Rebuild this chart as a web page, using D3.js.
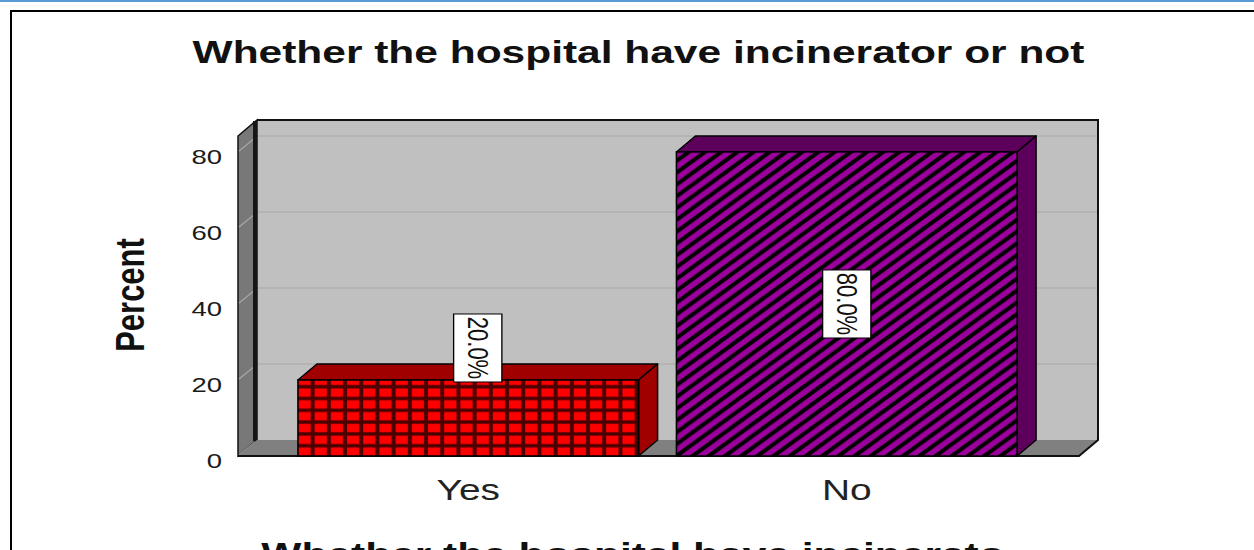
<!DOCTYPE html>
<html>
<head>
<meta charset="utf-8">
<script src="https://cdn.jsdelivr.net/npm/d3@7"></script>
<style>
  body { margin: 0; background: #fff; }
  svg { display: block; }
</style>
</head>
<body>
<svg id="main_svg" width="1254" height="550"></svg>
<script>
// data
const categories = ['Yes', 'No'];
const percents = [20.0, 80.0];
const barLabels = ['20.0%', '80.0%'];
const yTicks = [0, 20, 40, 60, 80];
const chartTitle = 'Whether the hospital have incinerator or not';
const xTitle = 'Whether the hospital have incinerato';
const yTitle = 'Percent';

// layout / style
const SX = 1.34; // the picture is stretched sideways
const DX = 19, DY = -16; // 3d depth offset
const font = '"Liberation Sans", Arial, sans-serif';
const frontFill = ['url(#pat_check)', 'url(#pat_diag)'];
const darkFill = ['#a00000', '#5c005c'];

const svg = d3.select('#main_svg');

const y = d3.scaleLinear().domain([0, 84.2]).range([456, 136]);
const x = d3.scaleBand()
  .domain(categories)
  .range([279, 1036])
  .paddingInner(0.1)
  .paddingOuter(0.05);

const wallL = 238, wallR = 1079;
const yTop = y(84.2), y0 = y(0);

// patterns
/////////////////////////////////////
const defs = svg.append('defs');
const pw = 16.2, ph = 11.8;

const check = defs.append('pattern')
  .attr('id', 'pat_check')
  .attr('patternUnits', 'userSpaceOnUse')
  .attr('x', x('Yes') - 1.5)
  .attr('y', y0 + 1.5)
  .attr('width', pw)
  .attr('height', ph);
check.append('rect').attr('width', pw).attr('height', ph).attr('fill', '#4a0000');
check.append('rect')
  .attr('x', 2).attr('y', 1.7)
  .attr('width', pw - 4).attr('height', ph - 3.4)
  .attr('fill', '#ff0000');

const diag = defs.append('pattern')
  .attr('id', 'pat_diag')
  .attr('patternUnits', 'userSpaceOnUse')
  .attr('x', x('No'))
  .attr('y', y0)
  .attr('width', pw)
  .attr('height', ph);
diag.append('rect').attr('width', pw).attr('height', ph).attr('fill', '#9c009c');
diag.append('path')
  .attr('d', 'M0,' + ph + ' L' + pw + ',0' +
    ' M' + (-pw / 2) + ',' + (ph / 2) + ' L' + (pw / 2) + ',' + (-ph / 2) +
    ' M' + (pw / 2) + ',' + (ph * 1.5) + ' L' + (pw * 1.5) + ',' + (ph / 2))
  .attr('stroke', '#000')
  .attr('stroke-width', 4.1);

// page decoration
/////////////////////////////////////
svg.append('rect')
  .attr('x', 0).attr('y', 0)
  .attr('width', 1254).attr('height', 2)
  .attr('fill', '#5b9bd5');

svg.append('rect')
  .attr('x', 11).attr('y', 11)
  .attr('width', 1270).attr('height', 600)
  .attr('fill', 'none')
  .attr('stroke', '#000')
  .attr('stroke-width', 2);

// chart title
svg.append('text')
  .text(chartTitle)
  .attr('transform', 'translate(638.5,63) scale(' + SX + ',1)')
  .attr('text-anchor', 'middle')
  .style('font-family', font)
  .style('font-size', '31.7px')
  .style('font-weight', 700)
  .attr('fill', '#111');

// walls
/////////////////////////////////////
// back wall
svg.append('rect')
  .attr('x', wallL + DX)
  .attr('y', yTop + DY)
  .attr('width', wallR - wallL)
  .attr('height', y0 - yTop)
  .attr('fill', '#c0c0c0');

svg.selectAll('.grid_back')
  .data(yTicks.slice(1))
  .enter()
  .append('line')
  .attr('class', 'grid_back')
  .attr('x1', wallL + DX)
  .attr('x2', wallR + DX)
  .attr('y1', d => y(d) + DY)
  .attr('y2', d => y(d) + DY)
  .attr('stroke', '#b0b0b0')
  .attr('stroke-width', 1.5);

// left wall
svg.append('polygon')
  .attr('points', [
    [wallL, yTop], [wallL + DX, yTop + DY],
    [wallL + DX, y0 + DY], [wallL, y0]
  ].join(' '))
  .attr('fill', '#787878')
  .attr('stroke', '#111')
  .attr('stroke-width', 1.5);

svg.selectAll('.grid_left')
  .data(yTicks)
  .enter()
  .append('line')
  .attr('class', 'grid_left')
  .attr('x1', wallL + 1)
  .attr('x2', wallL + DX - 2)
  .attr('y1', d => y(d) - 1)
  .attr('y2', d => y(d) + DY + 2)
  .attr('stroke', '#a6a6a6')
  .attr('stroke-width', 1.2);

svg.append('rect')
  .attr('x', wallL + DX - 4)
  .attr('y', yTop + DY + 1)
  .attr('width', 4)
  .attr('height', y0 - yTop)
  .attr('fill', '#161616');

// floor
svg.append('polygon')
  .attr('points', [
    [wallL, y0], [wallL + DX, y0 + DY],
    [wallR + DX, y0 + DY], [wallR, y0]
  ].join(' '))
  .attr('fill', '#808080');

// outline of the box
svg.append('path')
  .attr('d', 'M' + (wallL + DX) + ',' + (yTop + DY) +
    ' L' + (wallR + DX) + ',' + (yTop + DY) +
    ' L' + (wallR + DX) + ',' + (y0 + DY) +
    ' L' + wallR + ',' + y0 +
    ' L' + wallL + ',' + y0)
  .attr('fill', 'none')
  .attr('stroke', '#111')
  .attr('stroke-width', 2);

// bars
/////////////////////////////////////
const bw = x.bandwidth();
const bars = svg.selectAll('.bar')
  .data(categories)
  .enter()
  .append('g')
  .attr('class', 'bar');

// top face
bars.append('polygon')
  .attr('points', (d, i) => {
    const x0 = x(d), x1 = x0 + bw, yt = y(percents[i]);
    return [[x0, yt], [x0 + DX, yt + DY], [x1 + DX, yt + DY], [x1, yt]].join(' ');
  })
  .attr('fill', (d, i) => darkFill[i])
  .attr('stroke', '#000')
  .attr('stroke-width', 1.5)
  .attr('stroke-linejoin', 'round');

// side face
bars.append('polygon')
  .attr('points', (d, i) => {
    const x1 = x(d) + bw, yt = y(percents[i]);
    return [[x1, yt], [x1 + DX, yt + DY], [x1 + DX, y0 + DY], [x1, y0]].join(' ');
  })
  .attr('fill', (d, i) => darkFill[i])
  .attr('stroke', '#000')
  .attr('stroke-width', 1.5)
  .attr('stroke-linejoin', 'round');

// front face
bars.append('rect')
  .attr('x', d => x(d))
  .attr('y', (d, i) => y(percents[i]))
  .attr('width', bw)
  .attr('height', (d, i) => y0 - y(percents[i]))
  .attr('fill', (d, i) => frontFill[i])
  .attr('stroke', '#000')
  .attr('stroke-width', 1.5);

// value labels (rotated, in white boxes)
const boxLen = 68, boxWid = 36;
bars.append('g')
  .attr('transform', (d, i) => {
    const yt = y(percents[i]);
    let cx = x(d) + bw / 2;
    let cy = (yt + y0) / 2;
    if (y0 - yt < boxLen + 20) {
      // not enough room, sit on top of the bar
      cx = x(d) + (bw + DX) / 2;
      cy = yt - boxLen / 2 + 2;
    }
    return 'translate(' + cx + ',' + cy + ') scale(' + SX + ',1) rotate(90)';
  })
  .each(function(d, i) {
    const g = d3.select(this);
    g.append('rect')
      .attr('x', -boxLen / 2)
      .attr('y', -boxWid / 2)
      .attr('width', boxLen)
      .attr('height', boxWid)
      .attr('fill', '#fff')
      .attr('stroke', '#000')
      .attr('stroke-width', 1);
    g.append('text')
      .text(barLabels[i])
      .attr('text-anchor', 'middle')
      .attr('dominant-baseline', 'central')
      .style('font-family', font)
      .style('font-size', '22px')
      .attr('fill', '#111');
  });

// axes text
/////////////////////////////////////
svg.selectAll('.ytick')
  .data(yTicks)
  .enter()
  .append('text')
  .attr('class', 'ytick')
  .text(d => d)
  .attr('transform', d => 'translate(222,' + (y(d) + 5) + ') scale(' + SX + ',1)')
  .attr('text-anchor', 'end')
  .attr('dominant-baseline', 'central')
  .style('font-family', font)
  .style('font-size', '20.5px')
  .attr('fill', '#1a1a1a');

svg.selectAll('.xtick')
  .data(categories)
  .enter()
  .append('text')
  .attr('class', 'xtick')
  .text(d => d)
  .attr('transform', d => 'translate(' + (x(d) + bw / 2) + ',500) scale(' + SX + ',1)')
  .attr('text-anchor', 'middle')
  .style('font-family', font)
  .style('font-size', '29px')
  .attr('fill', '#222');

// y title
svg.append('text')
  .text(yTitle)
  .attr('transform', 'translate(130,295) scale(' + SX + ',1) rotate(-90)')
  .attr('text-anchor', 'middle')
  .attr('dominant-baseline', 'central')
  .style('font-family', font)
  .style('font-size', '31px')
  .style('font-weight', 700)
  .attr('fill', '#111');

// x title (the reference crops it at the bottom edge as well)
svg.append('text')
  .text(xTitle)
  .attr('transform', 'translate(633,565) scale(' + SX + ',1)')
  .attr('text-anchor', 'middle')
  .style('font-family', font)
  .style('font-size', '31.7px')
  .style('font-weight', 700)
  .attr('fill', '#111');
</script>
</body>
</html>
